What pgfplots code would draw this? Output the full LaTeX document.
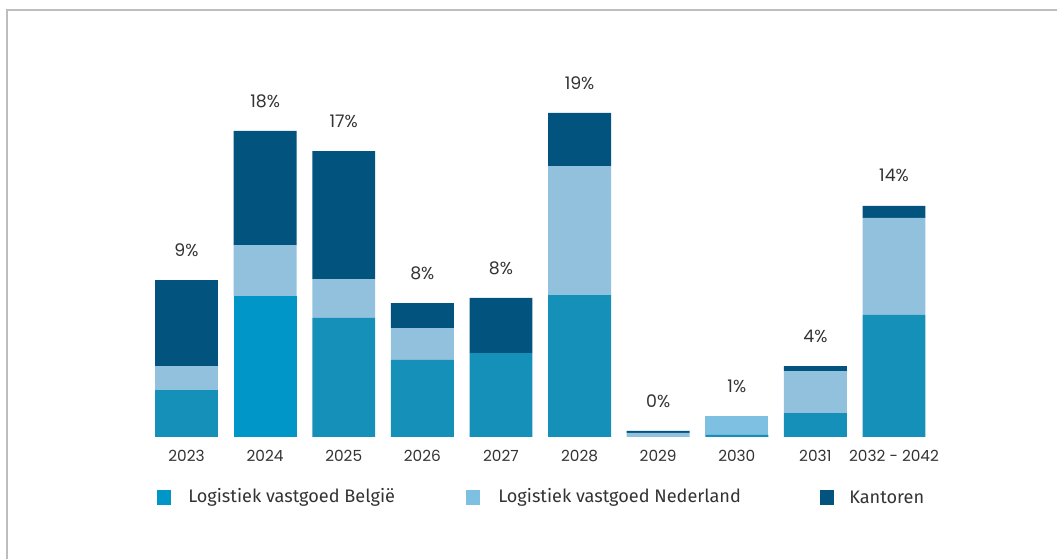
\documentclass[border=0pt]{standalone}
\usepackage{fontspec}
\setmainfont{Poppins}
\newfontfamily\legfont{Fira Sans}
\usepackage{pgfplots}
\pgfplotsset{compat=1.18}

\definecolor{teal}{HTML}{1591B9}
\definecolor{tealbright}{HTML}{0096C8}
\definecolor{lightb}{HTML}{92C1DD}
\definecolor{lightbright}{HTML}{7DC0E1}
\definecolor{darkb}{HTML}{02537D}
\definecolor{framegray}{HTML}{BDBDBD}

\pgfplotsset{
    chartbox/.style={
        at={(110.4pt,91.5pt)}, anchor=south west,
        scale only axis,
        width=589.6pt, height=255pt,
        xmin=-0.5, xmax=9.5,
        ymin=0, ymax=20,
        clip=false,
    },
}

\begin{document}
\begin{tikzpicture}
\useasboundingbox (0,0) rectangle (792.75pt,419.25pt);
% frame
\draw[framegray, line width=1.5pt] (5.6pt,0) -- (5.6pt,411.4pt) -- (792.75pt,411.4pt);

\begin{axis}[
    chartbox,
    ybar stacked,
    bar width=0.8,
    axis y line=none,
    axis x line*=bottom,
    x axis line style={draw=none},
    major tick length=0pt,
    xtick={0,...,9},
    xticklabels={2023,2024,2025,2026,2027,2028,2029,2030,2031,2032 - 2042},
    xticklabel style={font=\fontsize{11.5}{13}\selectfont, text=black!80, anchor=center, yshift=-14.25pt},
    every axis plot/.append style={draw=none},
]
% Logistiek vastgoed Belgie
\addplot[fill=teal] coordinates {(0,2.76) (1,0) (2,7.0) (3,4.53) (4,4.94) (5,8.35) (6,0) (7,0.12) (8,1.41) (9,7.18)};
\addplot[fill=tealbright] coordinates {(0,0) (1,8.29) (2,0) (3,0) (4,0) (5,0) (6,0) (7,0) (8,0) (9,0)};
% Logistiek vastgoed Nederland
\addplot[fill=lightb] coordinates {(0,1.41) (1,3.0) (2,2.29) (3,1.88) (4,0) (5,7.59) (6,0.24) (7,0) (8,2.47) (9,5.71)};
\addplot[fill=lightbright] coordinates {(0,0) (1,0) (2,0) (3,0) (4,0) (5,0) (6,0) (7,1.12) (8,0) (9,0)};
% Kantoren
\addplot[fill=darkb] coordinates {(0,5.06) (1,6.71) (2,7.53) (3,1.47) (4,3.24) (5,3.12) (6,0.12) (7,0) (8,0.29) (9,0.71)};
\end{axis}

% totals above the bars
\begin{axis}[
    chartbox,
    hide axis,
]
\addplot[draw=none, mark=none,
    point meta=explicit symbolic,
    nodes near coords={\pgfplotspointmeta},
    every node near coord/.append style={font=\fontsize{13}{15}\selectfont, text=black!80, anchor=center, inner sep=0pt, yshift=22.5pt},
] coordinates {(0,9.23) [9\%] (1,18.0) [18\%] (2,16.82) [17\%] (3,7.88) [8\%] (4,8.18) [8\%] (5,19.06) [19\%] (6,0.36) [0\%] (7,1.24) [1\%] (8,4.17) [4\%] (9,13.6) [14\%]};
\end{axis}

% legend
\fill[tealbright] (117.75pt,40.7pt) rectangle ++(10.5pt,10.9pt);
\node[anchor=west, inner sep=0pt, font=\legfont\fontsize{13.6}{15}\selectfont, text=black!80] at (141pt,46.3pt) {Logistiek vastgoed België};
\fill[lightbright] (349.5pt,40.7pt) rectangle ++(10.5pt,10.9pt);
\node[anchor=west, inner sep=0pt, font=\legfont\fontsize{13.6}{15}\selectfont, text=black!80] at (373.5pt,46.3pt) {Logistiek vastgoed Nederland};
\fill[darkb] (615pt,40.7pt) rectangle ++(10.5pt,10.9pt);
\node[anchor=west, inner sep=0pt, font=\legfont\fontsize{13.6}{15}\selectfont, text=black!80] at (636.75pt,46.3pt) {Kantoren};
\end{tikzpicture}
\end{document}
